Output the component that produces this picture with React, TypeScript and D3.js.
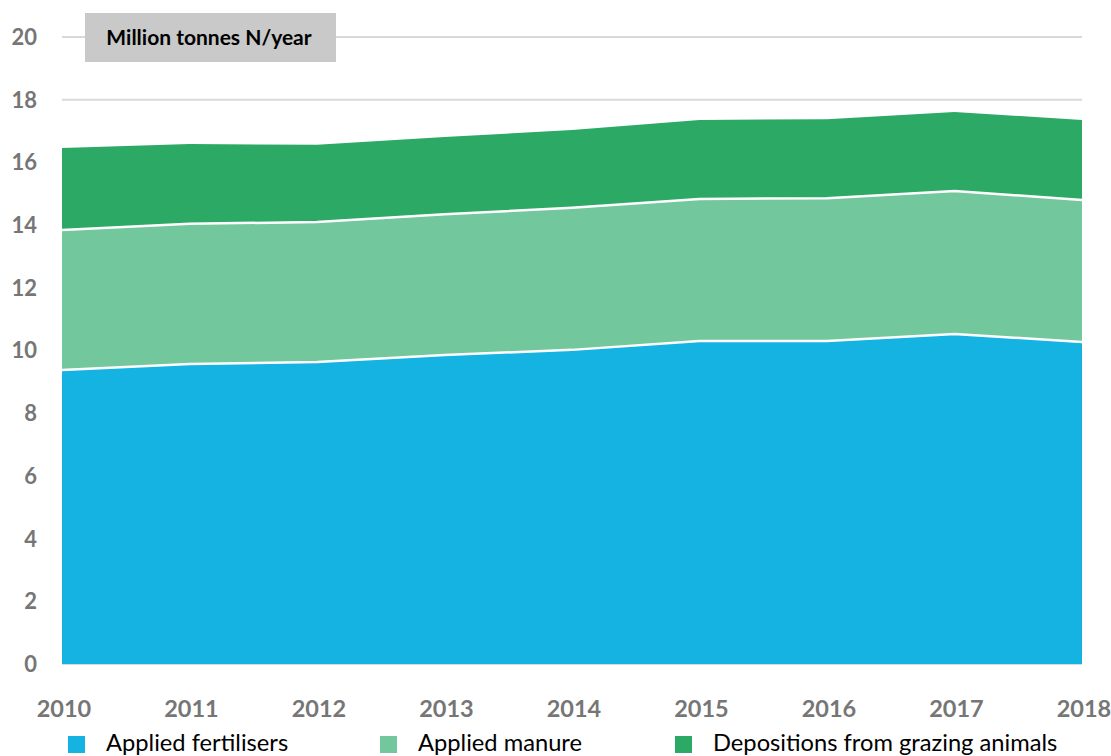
import React from "react";
import * as d3 from "d3";

const years = [2010, 2011, 2012, 2013, 2014, 2015, 2016, 2017, 2018];
const fertilisers = [9.38, 9.57, 9.63, 9.86, 10.02, 10.3, 10.3, 10.53, 10.27];
const manure = [4.46, 4.47, 4.47, 4.49, 4.53, 4.53, 4.56, 4.56, 4.53];
const grazing = [2.62, 2.55, 2.46, 2.46, 2.48, 2.52, 2.52, 2.52, 2.55];
const yTicks = [0, 2, 4, 6, 8, 10, 12, 14, 16, 18, 20];
const seriesNames = ["Applied fertilisers", "Applied manure", "Depositions from grazing animals"];
const colors = ["#15B3E2", "#72C79D", "#2DA966"];
const unitLabel = "Million tonnes N/year";

const W = 1111;
const H = 756;
const FONT = "Lato, 'Open Sans', sans-serif";

export default function App() {
  const x = d3.scaleLinear().domain([2010, 2018]).range([62, 1082]);
  const y = d3.scaleLinear().domain([0, 20]).range([664, 37]);

  const rows = years.map((yr, i) => ({
    year: yr,
    f: fertilisers[i],
    m: manure[i],
    g: grazing[i],
  }));
  const stack = d3.stack<any>().keys(["f", "m", "g"]);
  const layers = stack(rows);

  const area = d3
    .area<any>()
    .x((d) => x(d.data.year))
    .y0((d) => y(d[0]))
    .y1((d) => y(d[1]));
  const line = d3
    .line<any>()
    .x((d) => x(d.data.year))
    .y((d) => y(d[1]));

  const legendX = [68, 380, 675];

  return (
    <svg width={W} height={H} style={{ position: "absolute", left: 0, top: 0, background: "#fff" }}>
      {yTicks.map((t) => (
        <line key={t} x1={62} x2={1082} y1={y(t)} y2={y(t)} stroke="#D9D9D9" strokeWidth={2} />
      ))}
      {layers.map((layer, i) => (
        <path key={i} d={area(layer) || ""} fill={colors[i]} />
      ))}
      {layers.slice(0, 2).map((layer, i) => (
        <path key={"l" + i} d={line(layer) || ""} fill="none" stroke="#fff" strokeWidth={2.5} />
      ))}
      {yTicks.map((t) => (
        <text
          key={"yt" + t}
          x={37}
          y={y(t)}
          dy="0.36em"
          textAnchor="end"
          fontFamily={FONT}
          fontWeight="bold"
          fontSize={22}
          fill="#767676"
        >
          {t}
        </text>
      ))}
      {years.map((yr) => (
        <text
          key={"xt" + yr}
          x={x(yr) + 2}
          y={717}
          textAnchor="middle"
          fontFamily={FONT}
          fontWeight="bold"
          fontSize={23.5}
          fill="#767676"
        >
          {yr}
        </text>
      ))}
      <rect x={85} y={13} width={251} height={49} fill="#C9C9C9" />
      <text
        x={209}
        y={37}
        dy="0.36em"
        textAnchor="middle"
        fontFamily={FONT}
        fontWeight="bold"
        fontSize={21}
        fill="#000"
      >
        {unitLabel}
      </text>
      {seriesNames.map((n, i) => (
        <g key={n}>
          <rect x={legendX[i]} y={736} width={17} height={17} fill={colors[i]} />
          <text x={legendX[i] + 38} y={751} fontFamily={FONT} fontSize={23.7} fill="#000">
            {n}
          </text>
        </g>
      ))}
    </svg>
  );
}
